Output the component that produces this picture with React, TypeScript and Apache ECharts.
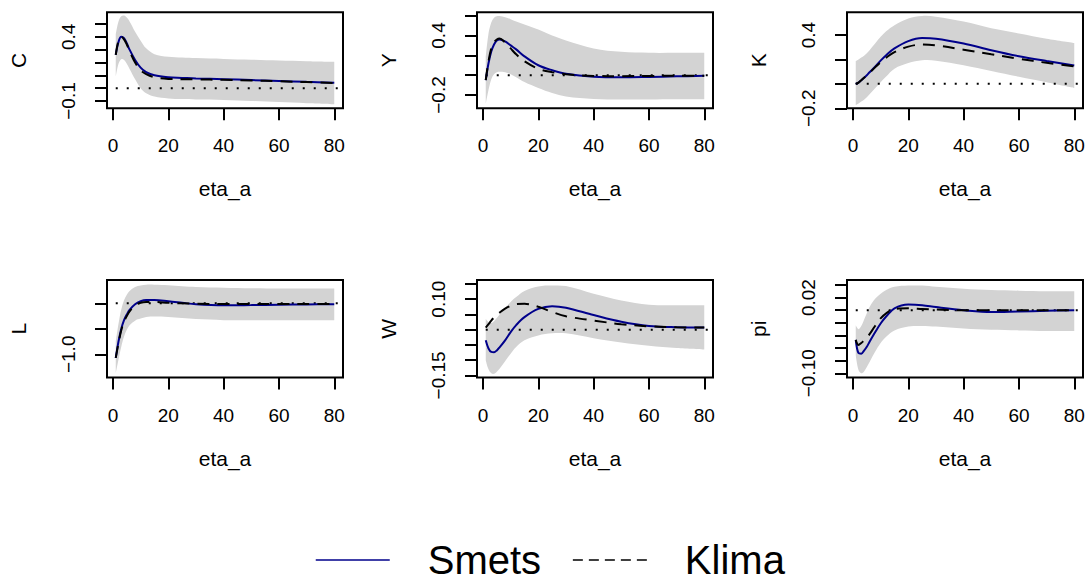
import React, { useEffect, useRef } from "react";
import * as echarts from "echarts";

// ---------- data ----------
const periods = [1, 2, 3, 4, 5, 6, 8, 10, 12, 15, 20, 25, 30, 40, 50, 60, 70, 80];
const xTicks = [0, 20, 40, 60, 80];
const panelNames = ["C", "Y", "K", "L", "W", "pi"];
const xName = "eta_a";
const legendNames = ["Smets", "Klima"];

// C
const smetsC = [0.26, 0.36, 0.40, 0.39, 0.35, 0.30, 0.22, 0.16, 0.125, 0.10, 0.085, 0.08, 0.075, 0.07, 0.063, 0.056, 0.049, 0.043];
const klimaC = [0.26, 0.37, 0.40, 0.38, 0.34, 0.29, 0.20, 0.14, 0.11, 0.085, 0.072, 0.07, 0.068, 0.065, 0.06, 0.054, 0.047, 0.04];
const hiC = [0.42, 0.52, 0.56, 0.566, 0.55, 0.52, 0.44, 0.37, 0.31, 0.265, 0.245, 0.238, 0.234, 0.228, 0.222, 0.215, 0.21, 0.205];
const loC = [0.09, 0.19, 0.225, 0.22, 0.19, 0.15, 0.07, 0.0, -0.04, -0.066, -0.08, -0.085, -0.088, -0.092, -0.1, -0.108, -0.117, -0.125];

// Y
const smetsY = [-0.05, 0.12, 0.24, 0.31, 0.35, 0.36, 0.34, 0.30, 0.26, 0.19, 0.10, 0.05, 0.015, -0.015, -0.022, -0.018, -0.012, -0.007];
const klimaY = [-0.05, 0.14, 0.27, 0.33, 0.36, 0.37, 0.33, 0.27, 0.21, 0.14, 0.065, 0.03, 0.01, -0.008, -0.01, -0.008, -0.006, -0.005];
const hiY = [0.18, 0.42, 0.53, 0.58, 0.595, 0.597, 0.585, 0.565, 0.54, 0.51, 0.46, 0.40, 0.35, 0.27, 0.235, 0.225, 0.225, 0.227];
const loY = [-0.29, -0.15, -0.04, 0.01, 0.03, 0.035, 0.03, 0.01, -0.02, -0.07, -0.13, -0.18, -0.215, -0.24, -0.245, -0.245, -0.243, -0.242];

// K
const smetsK = [0.0, 0.01, 0.03, 0.05, 0.07, 0.095, 0.14, 0.19, 0.235, 0.29, 0.35, 0.375, 0.37, 0.33, 0.275, 0.226, 0.187, 0.151];
const klimaK = [0.0, 0.01, 0.03, 0.05, 0.07, 0.09, 0.135, 0.178, 0.215, 0.26, 0.305, 0.322, 0.315, 0.28, 0.242, 0.206, 0.172, 0.143];
const hiK = [0.187, 0.2, 0.215, 0.23, 0.25, 0.275, 0.33, 0.385, 0.43, 0.48, 0.535, 0.556, 0.55, 0.51, 0.455, 0.413, 0.37, 0.335];
const loK = [-0.173, -0.16, -0.145, -0.13, -0.11, -0.085, -0.035, 0.013, 0.06, 0.124, 0.17, 0.193, 0.19, 0.153, 0.105, 0.058, 0.014, -0.033];

// L
const smetsL = [-1.07, -0.75, -0.5, -0.33, -0.22, -0.13, -0.02, 0.04, 0.065, 0.065, 0.04, 0.01, -0.02, -0.04, -0.035, -0.028, -0.022, -0.02];
const klimaL = [-1.07, -0.78, -0.53, -0.36, -0.25, -0.16, -0.04, 0.01, 0.025, 0.025, 0.01, 0.0, -0.01, -0.015, -0.015, -0.015, -0.015, -0.015];
const hiL = [-0.75, -0.4, -0.12, 0.06, 0.17, 0.24, 0.32, 0.35, 0.365, 0.365, 0.355, 0.335, 0.32, 0.305, 0.295, 0.29, 0.29, 0.29];
const loL = [-1.37, -1.1, -0.85, -0.65, -0.52, -0.43, -0.34, -0.3, -0.27, -0.26, -0.27, -0.29, -0.31, -0.33, -0.33, -0.33, -0.33, -0.33];

// W
const smetsW = [-0.035, -0.062, -0.073, -0.074, -0.068, -0.058, -0.035, -0.008, 0.015, 0.041, 0.068, 0.077, 0.072, 0.048, 0.026, 0.012, 0.008, 0.007];
const klimaW = [0.007, 0.018, 0.03, 0.04, 0.048, 0.056, 0.069, 0.078, 0.084, 0.085, 0.075, 0.058, 0.044, 0.03, 0.018, 0.011, 0.008, 0.007];
const hiW = [0.035, 0.025, 0.022, 0.028, 0.038, 0.05, 0.07, 0.091, 0.107, 0.127, 0.142, 0.145, 0.143, 0.118, 0.096, 0.082, 0.08, 0.08];
const loW = [-0.1, -0.13, -0.143, -0.145, -0.138, -0.128, -0.104, -0.079, -0.057, -0.035, -0.019, -0.012, -0.012, -0.028, -0.042, -0.053, -0.06, -0.065];

// pi
const smetsPi = [-0.047, -0.068, -0.069, -0.064, -0.058, -0.05, -0.035, -0.021, -0.01, 0.003, 0.009, 0.008, 0.005, 0.0, -0.003, -0.002, -0.001, 0.0];
const klimaPi = [-0.047, -0.055, -0.052, -0.048, -0.044, -0.038, -0.025, -0.013, -0.005, 0.002, 0.003, 0.002, 0.001, 0.0, 0.0, 0.0, 0.0, 0.0];
const hiPi = [-0.024, -0.03, -0.025, -0.015, -0.005, 0.005, 0.018, 0.026, 0.032, 0.037, 0.039, 0.039, 0.037, 0.034, 0.032, 0.031, 0.03, 0.03];
const loPi = [-0.071, -0.095, -0.1, -0.097, -0.09, -0.082, -0.066, -0.052, -0.042, -0.032, -0.026, -0.025, -0.026, -0.029, -0.031, -0.032, -0.033, -0.033];

// y tick values and labelled ticks
const yTicksC = [-0.1, 0, 0.1, 0.2, 0.3, 0.4, 0.5];
const yLabelsC = [-0.1, 0.4];
const yTicksY = [-0.2, 0, 0.2, 0.4, 0.6];
const yLabelsY = [-0.2, 0.4];
const yTicksK = [-0.2, 0, 0.2, 0.4];
const yLabelsK = [-0.2, 0.4];
const yTicksL = [-1.0, -0.5, 0];
const yLabelsL = [-1.0];
const yTicksW = [-0.15, -0.1, -0.05, 0, 0.05, 0.1, 0.15];
const yLabelsW = [-0.15, 0.1];
const yTicksPi = [-0.1, -0.08, -0.06, -0.04, -0.02, 0, 0.02, 0.04];
const yLabelsPi = [-0.1, 0.02];

// ---------- layout / style ----------
const FONT = "'Liberation Sans', Arial, Helvetica, sans-serif";
const BLUE = "#00008B";
const BAND = "#D3D3D3";
const X_MIN = -2.16;
const X_MAX = 83.16;
const SMOOTH = 0.35;
const colLefts = [107, 477, 847];
const rowTops = [12.3, 280];
const rowHeights = [96, 97.5];
const boxWidth = 236;

const panels = [
  { smets: smetsC, klima: klimaC, hi: hiC, lo: loC, ticks: yTicksC, labels: yLabelsC, range: [-0.157, 0.591], dec: 1 },
  { smets: smetsY, klima: klimaY, hi: hiY, lo: loY, ticks: yTicksY, labels: yLabelsY, range: [-0.334, 0.634], dec: 1 },
  { smets: smetsK, klima: klimaK, hi: hiK, lo: loK, ticks: yTicksK, labels: yLabelsK, range: [-0.2, 0.586], dec: 1 },
  { smets: smetsL, klima: klimaL, hi: hiL, lo: loL, ticks: yTicksL, labels: yLabelsL, range: [-1.455, 0.457], dec: 1 },
  { smets: smetsW, klima: klimaW, hi: hiW, lo: loW, ticks: yTicksW, labels: yLabelsW, range: [-0.157, 0.163], dec: 2 },
  { smets: smetsPi, klima: klimaPi, hi: hiPi, lo: loPi, ticks: yTicksPi, labels: yLabelsPi, range: [-0.1067, 0.0479], dec: 2 },
];

// smooth curve segments (same scheme as ECharts' line smoothing)
function curveSegments(pts: number[][], smooth: number): string {
  const n = pts.length;
  const cpNext: number[][] = [];
  const cpPrev: number[][] = [];
  for (let i = 0; i < n; i++) {
    const cur = pts[i];
    if (i === 0 || i === n - 1) {
      cpNext.push(cur);
      cpPrev.push(cur);
      continue;
    }
    const prev = pts[i - 1];
    const next = pts[i + 1];
    const vx = (next[0] - prev[0]) * smooth;
    const vy = (next[1] - prev[1]) * smooth;
    const lp = Math.hypot(cur[0] - prev[0], cur[1] - prev[1]);
    const ln = Math.hypot(next[0] - cur[0], next[1] - cur[1]);
    const r = ln / (ln + lp || 1);
    cpNext.push([cur[0] + vx * r, cur[1] + vy * r]);
    cpPrev.push([cur[0] - vx * (1 - r), cur[1] - vy * (1 - r)]);
  }
  let d = "";
  for (let i = 0; i < n - 1; i++) {
    const a = cpNext[i];
    const b = cpPrev[i + 1];
    const p = pts[i + 1];
    d += ` C${a[0]},${a[1]} ${b[0]},${b[1]} ${p[0]},${p[1]}`;
  }
  return d;
}

function buildOption() {
  const grid: any[] = [];
  const xAxis: any[] = [];
  const yAxis: any[] = [];
  const series: any[] = [];

  panels.forEach((p, i) => {
    const row = Math.floor(i / 3);
    const col = i % 3;
    grid.push({
      left: colLefts[col],
      top: rowTops[row],
      width: boxWidth,
      height: rowHeights[row],
      show: true,
      borderColor: "#000",
      borderWidth: 2,
      backgroundColor: "transparent",
      containLabel: false,
    });
    xAxis.push({
      type: "value",
      gridIndex: i,
      min: X_MIN,
      max: X_MAX,
      name: xName,
      nameLocation: "middle",
      nameGap: 70,
      nameTextStyle: { fontSize: 21, color: "#000", fontFamily: FONT },
      axisLine: { show: false, onZero: false },
      splitLine: { show: false },
      axisTick: { show: true, customValues: xTicks, length: 12, lineStyle: { color: "#000", width: 2 } },
      axisLabel: { customValues: xTicks, margin: 28, fontSize: 19, color: "#000", fontFamily: FONT },
    });
    yAxis.push({
      type: "value",
      gridIndex: i,
      min: p.range[0],
      max: p.range[1],
      name: panelNames[i],
      nameLocation: "middle",
      nameGap: 78,
      nameTextStyle: { fontSize: 21, color: "#000", fontFamily: FONT },
      axisLine: { show: false, onZero: false },
      splitLine: { show: false },
      axisTick: { show: true, customValues: p.ticks, length: 12, lineStyle: { color: "#000", width: 2 } },
      axisLabel: {
        customValues: p.labels,
        rotate: 90,
        margin: 29,
        fontSize: 19,
        color: "#000",
        fontFamily: FONT,
        formatter: (v: number) => v.toFixed(p.dec).replace("-", "\u2212"),
      },
    });

    const common = { xAxisIndex: i, yAxisIndex: i, silent: true };
    // confidence band as a filled polygon between lo and hi
    series.push({
      ...common,
      type: "custom",
      name: "band-" + i,
      data: periods.map((x, k) => [x, p.lo[k], p.hi[k]]),
      encode: { x: 0, y: [1, 2] },
      clip: true,
      renderItem: (params: any, api: any) => {
        if (params.dataIndex !== 0) return null;
        const top = periods.map((x, k) => api.coord([x, p.hi[k]]));
        const bot = periods.map((x, k) => api.coord([x, p.lo[k]])).reverse();
        const d =
          `M${top[0][0]},${top[0][1]}` +
          curveSegments(top, SMOOTH) +
          ` L${bot[0][0]},${bot[0][1]}` +
          curveSegments(bot, SMOOTH) +
          " Z";
        return { type: "path", shape: { pathData: d }, style: { fill: BAND, stroke: null } };
      },
    });
    series.push({
      ...common,
      type: "line",
      name: "zero-" + i,
      symbol: "none",
      data: [
        [periods[0], 0],
        [X_MAX, 0],
      ],
      lineStyle: { color: "#000", width: 2, type: [2, 9] },
    });
    series.push({
      ...common,
      type: "line",
      name: legendNames[0],
      symbol: "none",
      smooth: SMOOTH,
      data: periods.map((x, k) => [x, p.smets[k]]),
      lineStyle: { color: BLUE, width: 2 },
      itemStyle: { color: BLUE },
    });
    series.push({
      ...common,
      type: "line",
      name: legendNames[1],
      symbol: "none",
      smooth: SMOOTH,
      data: periods.map((x, k) => [x, p.klima[k]]),
      lineStyle: { color: "#000", width: 2, type: [12, 8] },
      itemStyle: { color: "#000" },
    });
  });

  return {
    animation: false,
    backgroundColor: "#fff",
    grid,
    xAxis,
    yAxis,
    series,
    legend: {
      left: 315,
      top: 540,
      padding: 0,
      itemWidth: 74,
      itemHeight: 14,
      itemGap: 31,
      selectedMode: false,
      itemStyle: { opacity: 0 },
      textStyle: { fontSize: 40, lineHeight: 40, color: "#000", fontFamily: FONT, padding: [0, 0, 0, 33] },
      data: [
        { name: legendNames[0], lineStyle: { width: 1.5, color: BLUE } },
        { name: legendNames[1], lineStyle: { width: 1.5, color: "#000", type: [10, 6] } },
      ],
    },
  };
}

export default function App() {
  const ref = useRef<HTMLDivElement>(null);
  useEffect(() => {
    document.body.style.margin = "0";
    if (!ref.current) return;
    const chart = echarts.init(ref.current, null, { renderer: "svg" });
    chart.setOption(buildOption() as any);
    return () => chart.dispose();
  }, []);
  return <div ref={ref} style={{ width: 1089, height: 583 }} />;
}
